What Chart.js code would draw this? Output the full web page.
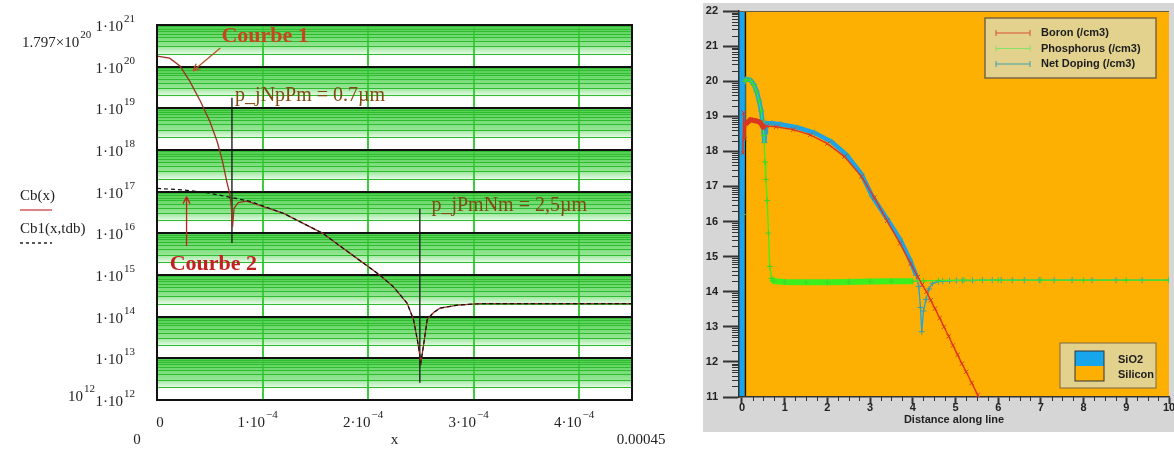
<!DOCTYPE html>
<html>
<head>
<meta charset="utf-8">
<script src="https://cdn.jsdelivr.net/npm/chart.js@4.4.1/dist/chart.umd.min.js"></script>
<style>
  html, body { margin: 0; padding: 0; background: #fff; }
  #wrap { position: relative; width: 1174px; height: 450px; }
  #leftBox { position: absolute; left: 0; top: 0; width: 680px; height: 450px; }
  #rightBox { position: absolute; left: 680px; top: 0; width: 494px; height: 450px; }
</style>
</head>
<body>
<div id="wrap">
  <div id="leftBox"><canvas id="profileChart"></canvas></div>
  <div id="rightBox"><canvas id="dopingChart"></canvas></div>
</div>
<script>
// ---------- left plot (Mathcad profile), depth in cm, concentration in cm^-3 ----------
const cbX = [0, 0.12e-4, 0.22e-4, 0.31e-4, 0.41e-4, 0.50e-4, 0.57e-4, 0.62e-4, 0.66e-4, 0.69e-4,
  0.705e-4, 0.715e-4, 0.73e-4, 0.77e-4, 0.85e-4, 1.2e-4, 1.57e-4, 1.83e-4, 2.11e-4, 2.24e-4,
  2.37e-4, 2.43e-4, 2.47e-4, 2.5e-4, 2.53e-4, 2.56e-4, 2.62e-4, 2.68e-4, 2.85e-4, 3.06e-4, 4.5e-4];
const cbY = [1.797e20, 1.6e20, 1.02e20, 4.5e19, 1.5e19, 4.9e18, 1.6e18, 5.4e17, 1.8e17, 8.7e16,
  4.0e16, 1.4e16, 4.0e16, 5.5e16, 5.9e16, 3.0e16, 1.0e16, 3.3e15, 1.0e15, 5.2e14,
  2.1e14, 8.5e13, 2.5e13, 7.9e12, 2.5e13, 8.5e13, 1.26e14, 1.6e14, 1.9e14, 2.05e14, 2.05e14];

const cb1X = [0, 0.25e-4, 0.47e-4, 0.66e-4, 0.88e-4, 1.2e-4, 1.57e-4, 1.83e-4, 2.11e-4, 2.24e-4,
  2.37e-4, 2.43e-4, 2.47e-4, 2.5e-4, 2.53e-4, 2.56e-4, 2.62e-4, 2.68e-4, 2.85e-4, 3.06e-4, 4.5e-4];
const cb1Y = [1.2e17, 1.1e17, 9.5e16, 7.6e16, 5.9e16, 3.0e16, 1.0e16, 3.3e15, 1.0e15, 5.2e14,
  2.1e14, 8.5e13, 2.5e13, 7.9e12, 2.5e13, 8.5e13, 1.26e14, 1.6e14, 1.9e14, 2.05e14, 2.05e14];

// junction markers (x position, top and bottom of the drawn line)
const junctionX = [0.71e-4, 2.49e-4];
const junctionTop = [1.8e19, 3.9e16];
const junctionBottom = [5.9e15, 2.6e12];

const leftXTicks = [0, 1e-4, 2e-4, 3e-4, 4e-4];
const leftXMantissa = ['0', '1·10', '2·10', '3·10', '4·10'];
const leftXExp = ['', '−4', '−4', '−4', '−4'];
const decadeExps = [12, 13, 14, 15, 16, 17, 18, 19, 20, 21];

// ---------- right plot (process simulator), distance in um, log10 concentration ----------
const boronX = [0.02, 0.04, 0.06, 0.09, 0.14, 0.2, 0.28, 0.36, 0.43, 0.48, 0.53, 0.58, 0.8, 1.2, 1.6,
  2.0, 2.4, 2.8, 3.1, 3.4, 3.7, 3.95, 4.12, 4.22, 4.32, 4.42, 4.52, 4.63, 4.73, 4.84, 4.94, 5.05,
  5.15, 5.25, 5.38, 5.52, 5.6];
const boronY = [17.95, 19.1, 18.35, 18.78, 18.84, 18.9, 18.88, 18.86, 18.82, 18.72, 18.66, 18.72, 18.7,
  18.62, 18.47, 18.22, 17.85, 17.28, 16.68, 16.02, 15.38, 14.8, 14.42, 14.2, 14.0, 13.76, 13.52,
  13.25, 13.0, 12.73, 12.47, 12.2, 11.95, 11.72, 11.4, 11.06, 10.85];

const phosX = [0.07, 0.1, 0.2, 0.28, 0.34, 0.4, 0.45, 0.48, 0.51, 0.54, 0.56, 0.59, 0.62, 0.65, 0.69,
  0.75, 1.0, 1.5, 2.0, 2.5, 3.0, 3.5, 4.0, 4.25, 4.6, 5.2, 6.0, 7.0, 8.0, 9.0, 10];
const phosY = [20.0, 20.05, 20.02, 19.88, 19.7, 19.44, 19.14, 18.84, 18.45, 17.7, 17.2, 16.6, 15.67, 14.72,
  14.38, 14.3, 14.28, 14.27, 14.27, 14.28, 14.29, 14.3, 14.3, 14.31, 14.32, 14.33, 14.33, 14.33,
  14.33, 14.33, 14.33];

const netX = [0.03, 0.05, 0.07, 0.1, 0.2, 0.28, 0.34, 0.4, 0.45, 0.48, 0.51, 0.525, 0.54, 0.56, 0.7,
  0.9, 1.3, 1.7, 2.1, 2.45, 2.8, 3.05, 3.4, 3.7, 3.93, 4.08, 4.14, 4.18, 4.21, 4.25, 4.31, 4.38,
  4.46, 4.6, 4.7, 4.86, 5.02, 5.16, 5.4, 5.63, 5.86, 6.07, 6.33, 6.61, 6.96, 7.31, 7.73, 8.2, 8.76,
  9.37, 10];
const netY = [16.2, 18.4, 20.0, 20.06, 20.03, 19.9, 19.72, 19.45, 19.15, 18.85, 18.52, 18.25, 18.55, 18.8,
  18.8, 18.77, 18.68, 18.53, 18.27, 17.9, 17.35, 16.72, 16.07, 15.5, 14.92, 14.47, 14.15, 13.55,
  12.86, 13.45, 13.78, 14.08, 14.24, 14.29, 14.3, 14.31, 14.32, 14.32, 14.32, 14.33, 14.33, 14.33,
  14.33, 14.33, 14.33, 14.33, 14.33, 14.33, 14.33, 14.33, 14.33];

const rightXTicks = [0, 1, 2, 3, 4, 5, 6, 7, 8, 9, 10];
const rightYTicks = [11, 12, 13, 14, 15, 16, 17, 18, 19, 20, 21, 22];

const serif = "'Liberation Serif', 'Times New Roman', serif";
const sans = "'Liberation Sans', Arial, sans-serif";

function toPoints(xs, ys) {
  return xs.map((x, i) => ({ x: x, y: ys[i] }));
}

function isDecade(v) {
  const e = Math.log10(v);
  return Math.abs(e - Math.round(e)) < 1e-6;
}

// Mathcad style number: mantissa text with a raised exponent
function drawPow(ctx, base, sup, x, y, align) {
  ctx.font = '15px ' + serif;
  const wb = ctx.measureText(base).width;
  ctx.font = '11px ' + serif;
  const ws = sup ? ctx.measureText(sup).width + 1 : 0;
  let x0 = x;
  if (align === 'right') x0 = x - wb - ws;
  if (align === 'center') x0 = x - (wb + ws) / 2;
  ctx.textAlign = 'left';
  ctx.textBaseline = 'middle';
  ctx.font = '15px ' + serif;
  ctx.fillText(base, x0, y);
  if (sup) {
    ctx.font = '11px ' + serif;
    ctx.fillText(sup, x0 + wb + 1, y - 8);
  }
}

function drawArrow(ctx, x1, y1, x2, y2, color) {
  const ang = Math.atan2(y2 - y1, x2 - x1);
  ctx.strokeStyle = color;
  ctx.lineWidth = 1.3;
  ctx.beginPath();
  ctx.moveTo(x1, y1);
  ctx.lineTo(x2, y2);
  ctx.moveTo(x2, y2);
  ctx.lineTo(x2 - 8 * Math.cos(ang - 0.45), y2 - 8 * Math.sin(ang - 0.45));
  ctx.moveTo(x2, y2);
  ctx.lineTo(x2 - 8 * Math.cos(ang + 0.45), y2 - 8 * Math.sin(ang + 0.45));
  ctx.stroke();
}

// green stripe background of the Mathcad plot, one gradient per decade
const stripeBackground = {
  id: 'stripeBackground',
  beforeDraw(chart) {
    const { ctx, chartArea: a, scales: { y } } = chart;
    ctx.save();
    ctx.fillStyle = '#fff';
    ctx.fillRect(a.left, a.top, a.right - a.left, a.bottom - a.top);
    for (let i = 0; i < decadeExps.length - 1; i++) {
      const yTop = y.getPixelForValue(Math.pow(10, decadeExps[i + 1]));
      const yBot = y.getPixelForValue(Math.pow(10, decadeExps[i]));
      const g = ctx.createLinearGradient(0, yTop, 0, yBot);
      g.addColorStop(0, '#4ccf4c');
      g.addColorStop(0.5, '#92e592');
      g.addColorStop(0.75, '#ffffff');
      g.addColorStop(1, '#ffffff');
      ctx.fillStyle = g;
      ctx.fillRect(a.left, yTop, a.right - a.left, yBot - yTop);
    }
    ctx.restore();
  },
  afterDraw(chart) {
    const { ctx, chartArea: a, scales: { x, y } } = chart;
    ctx.save();
    ctx.strokeStyle = '#111';
    ctx.lineWidth = 2;
    ctx.strokeRect(a.left, a.top, a.right - a.left, a.bottom - a.top);

    // axis numbers with superscript exponents
    ctx.fillStyle = '#222';
    decadeExps.forEach((e) => {
      drawPow(ctx, '1·10', String(e), a.left - 22, y.getPixelForValue(Math.pow(10, e)) + 2, 'right');
    });
    leftXTicks.forEach((v, i) => {
      const shift = i === 0 ? 3 : -5;
      drawPow(ctx, leftXMantissa[i], leftXExp[i], x.getPixelForValue(v) + shift, 423, 'center');
    });
    drawPow(ctx, '1.797×10', '20', 22, 43, 'left');
    drawPow(ctx, '10', '12', 68, 397, 'left');

    // annotations
    ctx.textBaseline = 'middle';
    ctx.textAlign = 'left';
    ctx.font = 'bold 22px ' + serif;
    ctx.fillStyle = '#c8461c';
    ctx.fillText('Courbe 1', x.getPixelForValue(0.61e-4), y.getPixelForValue(5.3e20));
    drawArrow(ctx, x.getPixelForValue(0.6e-4), y.getPixelForValue(2.8e20),
      x.getPixelForValue(0.34e-4), y.getPixelForValue(7.9e19), '#b8562a');
    ctx.fillStyle = '#c42020';
    ctx.fillText('Courbe 2', x.getPixelForValue(0.12e-4), y.getPixelForValue(1.8e15));
    drawArrow(ctx, x.getPixelForValue(0.28e-4), y.getPixelForValue(5e15),
      x.getPixelForValue(0.28e-4), y.getPixelForValue(7.6e16), '#c42020');

    ctx.font = '20px ' + serif;
    ctx.fillStyle = '#7f4a12';
    ctx.fillText('p_jNpPm = 0.7µm', x.getPixelForValue(0.74e-4), y.getPixelForValue(2.0e19));
    ctx.fillText('p_jPmNm = 2,5µm', x.getPixelForValue(2.6e-4), y.getPixelForValue(4.6e16));

    // Mathcad side labels
    ctx.fillStyle = '#222';
    ctx.font = '15px ' + serif;
    ctx.fillText('Cb(x)', 20, 196);
    ctx.fillText('Cb1(x,tdb)', 20, 229);
    ctx.textAlign = 'center';
    ctx.fillText('0', 137, 440);
    ctx.fillText('0.00045', 641, 440);
    ctx.strokeStyle = '#d04040';
    ctx.lineWidth = 1.3;
    ctx.beginPath();
    ctx.moveTo(20, 210);
    ctx.lineTo(52, 210);
    ctx.stroke();
    ctx.strokeStyle = '#222';
    ctx.setLineDash([3, 3]);
    ctx.beginPath();
    ctx.moveTo(20, 243);
    ctx.lineTo(52, 243);
    ctx.stroke();
    ctx.restore();
  }
};

new Chart(document.getElementById('profileChart'), {
  type: 'line',
  data: {
    datasets: [
      {
        label: 'Cb1(x,tdb)',
        data: toPoints(cb1X, cb1Y),
        borderColor: '#111',
        borderWidth: 1.2,
        borderDash: [4, 3],
        pointRadius: 0
      },
      {
        label: 'Cb(x)',
        data: toPoints(cbX, cbY),
        borderColor: '#9b3322',
        borderWidth: 1.3,
        pointRadius: 0
      },
      {
        label: 'jNpPm',
        data: [{ x: junctionX[0], y: junctionTop[0] }, { x: junctionX[0], y: junctionBottom[0] }],
        borderColor: '#111',
        borderWidth: 1.3,
        pointRadius: 0
      },
      {
        label: 'jPmNm',
        data: [{ x: junctionX[1], y: junctionTop[1] }, { x: junctionX[1], y: junctionBottom[1] }],
        borderColor: '#111',
        borderWidth: 1.3,
        pointRadius: 0
      }
    ]
  },
  options: {
    animation: false,
    responsive: true,
    maintainAspectRatio: false,
    layout: { padding: { left: 0, top: 25, right: 48, bottom: 0 } },
    plugins: { legend: { display: false }, tooltip: { enabled: false } },
    scales: {
      x: {
        type: 'linear',
        min: 0,
        max: 4.5e-4,
        afterBuildTicks: (s) => { s.ticks = leftXTicks.map(v => ({ value: v })); },
        afterFit: (s) => { s.height = 50; s.paddingLeft = 0; s.paddingRight = 0; },
        ticks: { display: false, autoSkip: false },
        grid: { color: '#3ccc3c', lineWidth: 2, drawTicks: false },
        border: { display: true, color: '#111', width: 2 },
        title: { display: true, text: 'x', color: '#222', font: { family: serif, size: 15 }, padding: { top: 0, bottom: 1 } }
      },
      y: {
        type: 'logarithmic',
        min: 1e12,
        max: 1e21,
        afterBuildTicks: (s) => {
          const t = [];
          for (let i = 0; i < decadeExps.length - 1; i++) {
            for (let k = 1; k < 10; k++) t.push({ value: k * Math.pow(10, decadeExps[i]) });
          }
          t.push({ value: Math.pow(10, decadeExps[decadeExps.length - 1]) });
          s.ticks = t;
        },
        afterFit: (s) => { s.width = 157; s.paddingTop = 0; s.paddingBottom = 0; },
        ticks: { display: false, autoSkip: false },
        grid: {
          color: (ctx) => isDecade(ctx.tick.value) ? '#111' : '#30bb30',
          lineWidth: (ctx) => isDecade(ctx.tick.value) ? 2 : 1,
          drawTicks: false
        },
        border: { display: true, color: '#111', width: 2 }
      }
    }
  },
  plugins: [stripeBackground]
});

// ---------- right chart helpers ----------
const processFrame = {
  id: 'processFrame',
  beforeDraw(chart) {
    const { ctx, chartArea: a, scales: { x } } = chart;
    ctx.save();
    ctx.fillStyle = '#d6d6d6';
    ctx.fillRect(23, 3, chart.width - 23, 429);
    ctx.fillStyle = '#fdb002';
    ctx.fillRect(a.left, a.top, a.right - a.left, a.bottom - a.top);
    // SiO2 layer at the surface
    const oxRight = x.getPixelForValue(0.06);
    ctx.fillStyle = '#17a6ec';
    ctx.fillRect(a.left, a.top, oxRight - a.left, a.bottom - a.top);
    ctx.strokeStyle = '#111';
    ctx.lineWidth = 1.5;
    ctx.beginPath();
    ctx.moveTo(x.getPixelForValue(0.08), a.top);
    ctx.lineTo(x.getPixelForValue(0.08), a.bottom);
    ctx.stroke();
    ctx.strokeStyle = '#6a5a40';
    ctx.lineWidth = 1;
    ctx.beginPath();
    ctx.moveTo(a.left, a.top + 0.5);
    ctx.lineTo(a.right, a.top + 0.5);
    ctx.stroke();
    ctx.restore();
  },
  afterDraw(chart) {
    const { ctx, chartArea: a, scales: { x, y } } = chart;
    ctx.save();
    // minor ticks
    ctx.strokeStyle = '#333';
    ctx.lineWidth = 1;
    ctx.beginPath();
    for (let i = 0; i < rightYTicks.length - 1; i++) {
      for (let k = 2; k < 10; k++) {
        const py = Math.round(y.getPixelForValue(rightYTicks[i] + Math.log10(k))) + 0.5;
        ctx.moveTo(a.left - 7, py);
        ctx.lineTo(a.left, py);
      }
    }
    for (let i = 0; i < rightXTicks.length - 1; i++) {
      for (let q = 1; q < 4; q++) {
        const px = Math.round(x.getPixelForValue(rightXTicks[i] + q / 4)) + 0.5;
        ctx.moveTo(px, a.bottom);
        ctx.lineTo(px, a.bottom + 4);
      }
    }
    ctx.stroke();

    // species legend
    const bx = a.right - 13 - 171, by = a.top + 7;
    ctx.fillStyle = '#e3d28e';
    ctx.fillRect(bx, by, 171, 60);
    ctx.strokeStyle = '#7a6646';
    ctx.lineWidth = 1.5;
    ctx.strokeRect(bx, by, 171, 60);
    const items = chart.data.datasets;
    const legendLine = ['#d8502e', '#84e266', '#3f9fa6'];
    ctx.font = 'bold 11px ' + sans;
    ctx.textBaseline = 'middle';
    ctx.textAlign = 'left';
    items.forEach((ds, i) => {
      const ly = by + 15 + i * 15.5;
      ctx.strokeStyle = legendLine[i];
      ctx.lineWidth = 1;
      ctx.beginPath();
      ctx.moveTo(bx + 11, ly);
      ctx.lineTo(bx + 45, ly);
      ctx.moveTo(bx + 11, ly - 3); ctx.lineTo(bx + 11, ly + 3);
      ctx.moveTo(bx + 45, ly - 3); ctx.lineTo(bx + 45, ly + 3);
      ctx.stroke();
      ctx.fillStyle = '#1c1c1c';
      ctx.fillText(ds.label, bx + 56, ly);
    });

    // material legend
    const mx = a.right - 13 - 96, my = a.bottom - 9 - 45;
    ctx.fillStyle = '#e3d28e';
    ctx.fillRect(mx, my, 96, 45);
    ctx.strokeStyle = '#7a6646';
    ctx.strokeRect(mx, my, 96, 45);
    ctx.fillStyle = '#17a6ec';
    ctx.fillRect(mx + 15, my + 8, 29, 15);
    ctx.fillStyle = '#fdb002';
    ctx.fillRect(mx + 15, my + 23, 29, 15);
    ctx.strokeStyle = '#333';
    ctx.lineWidth = 1;
    ctx.strokeRect(mx + 15, my + 8, 29, 30);
    ctx.fillStyle = '#1c1c1c';
    ctx.fillText('SiO2', mx + 58, my + 17);
    ctx.fillText('Silicon', mx + 58, my + 32);
    ctx.restore();
  }
};

function thickBetween(from, to, wide, thin) {
  return (ctx) => (ctx.p0.parsed.x >= from - 1e-9 && ctx.p1.parsed.x <= to + 1e-9) ? wide : thin;
}

new Chart(document.getElementById('dopingChart'), {
  type: 'line',
  data: {
    datasets: [
      {
        label: 'Boron (/cm3)',
        data: toPoints(boronX, boronY),
        borderColor: '#e3321c',
        borderWidth: 1.4,
        pointStyle: 'crossRot',
        pointRadius: 3,
        pointBorderColor: '#d43a22',
        pointBorderWidth: 1,
        segment: { borderWidth: thickBetween(0.09, 0.53, 5, 1.4) }
      },
      {
        label: 'Phosphorus (/cm3)',
        data: toPoints(phosX, phosY),
        borderColor: '#3cf01e',
        borderWidth: 1.3,
        pointStyle: 'cross',
        pointRadius: 3,
        pointBorderColor: '#3fd62a',
        pointBorderWidth: 1,
        segment: { borderWidth: thickBetween(0.69, 4.0, 6, 1.3) }
      },
      {
        label: 'Net Doping (/cm3)',
        data: toPoints(netX, netY),
        borderColor: '#1ca4e6',
        borderWidth: 1.3,
        pointStyle: 'cross',
        pointRadius: 3,
        pointBorderColor: '#3a9fae',
        pointBorderWidth: 1,
        segment: {
          borderWidth: thickBetween(0.07, 4.1, 4.5, 1.3),
          borderColor: (ctx) => ctx.p0.parsed.x >= 4.3 ? '#3f9fb0' : undefined
        }
      }
    ]
  },
  options: {
    animation: false,
    responsive: true,
    maintainAspectRatio: false,
    layout: { padding: { left: 0, top: 11, right: 4, bottom: 0 } },
    plugins: { legend: { display: false }, tooltip: { enabled: false } },
    scales: {
      x: {
        type: 'linear',
        min: -0.07,
        max: 10,
        afterBuildTicks: (s) => { s.ticks = rightXTicks.map(v => ({ value: v })); },
        afterFit: (s) => { s.height = 53; s.paddingLeft = 0; s.paddingRight = 0; },
        ticks: {
          color: '#222',
          font: { family: sans, size: 11, weight: 'bold' },
          padding: -3,
          maxRotation: 0,
          autoSkip: false
        },
        grid: { drawOnChartArea: false, tickLength: 7, tickWidth: 2, tickColor: '#333' },
        border: { display: true, color: '#333', width: 1.5 },
        title: {
          display: true,
          text: 'Distance along line',
          color: '#222',
          font: { family: sans, size: 11, weight: 'bold' },
          padding: { top: 0, bottom: 23 }
        }
      },
      y: {
        type: 'linear',
        min: 11,
        max: 22,
        afterBuildTicks: (s) => { s.ticks = rightYTicks.map(v => ({ value: v })); },
        afterFit: (s) => { s.width = 59; s.paddingTop = 0; s.paddingBottom = 0; },
        ticks: {
          color: '#222',
          font: { family: sans, size: 11, weight: 'bold' },
          padding: 5,
          autoSkip: false
        },
        grid: { drawOnChartArea: false, tickLength: 16, tickWidth: 2, tickColor: '#333' },
        border: { display: true, color: '#333', width: 1.5 }
      }
    }
  },
  plugins: [processFrame]
});
</script>
</body>
</html>
